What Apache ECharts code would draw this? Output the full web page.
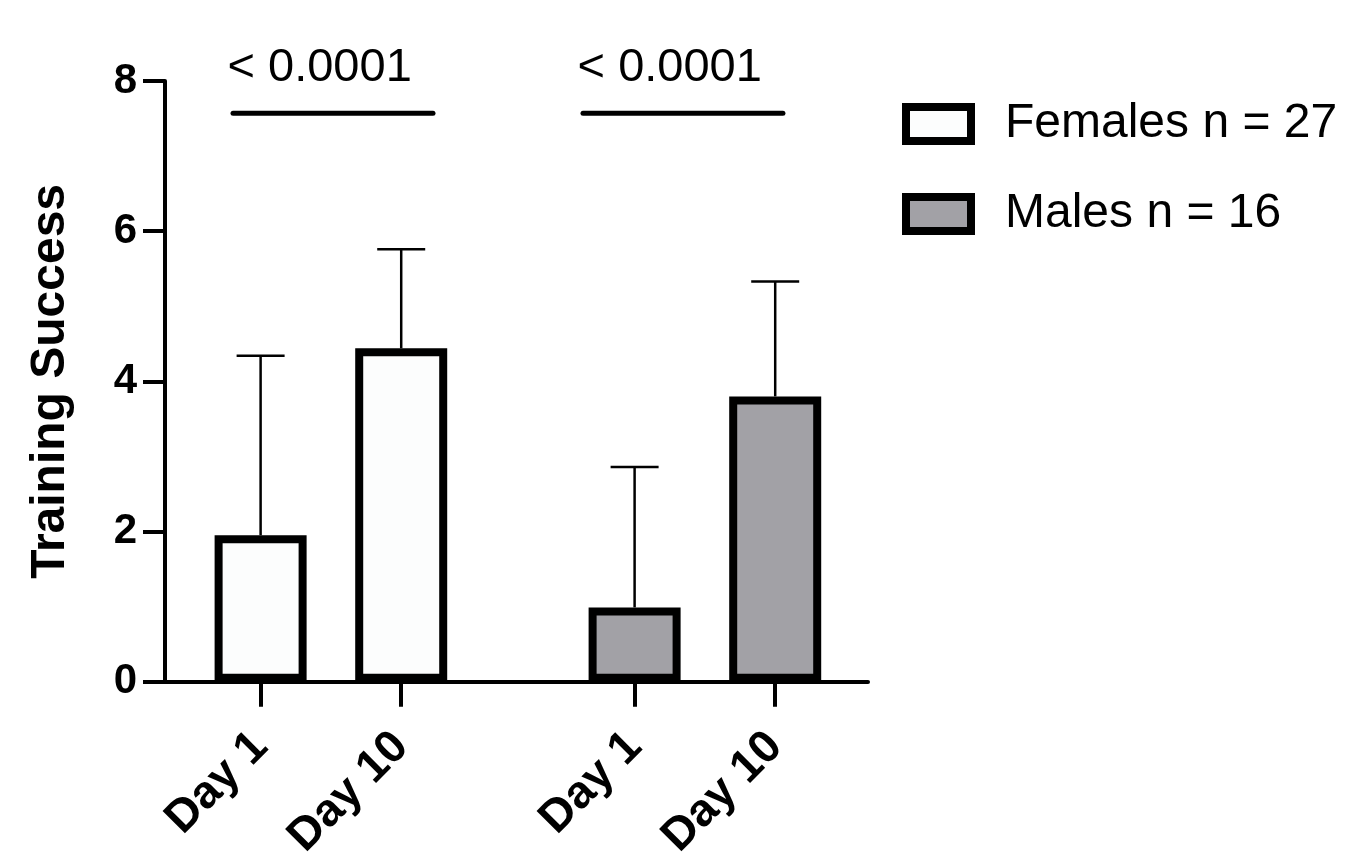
<!DOCTYPE html>
<html>
<head>
<meta charset="utf-8">
<title>Training Success</title>
<script src="https://cdn.jsdelivr.net/npm/echarts@6/dist/echarts.min.js"></script>
<style>
  html, body { margin: 0; padding: 0; background: #fff; }
  #main { width: 1355px; height: 863px; }
</style>
</head>
<body>
<div id="main"></div>
<script>
// data
const dayLabels = ['Day 1', 'Day 10', 'Day 1', 'Day 10'];
const femaleMean = [1.95, 4.44];
const femaleSd = [2.39, 1.32];
const maleMean = [0.99, 3.80];
const maleSd = [1.87, 1.53];
const yTicks = [0, 2, 4, 6, 8];
const pLabels = ['< 0.0001', '< 0.0001'];

// layout: slot centres on the x axis (axis runs 0..5)
const slotX = [0.68, 1.68, 3.34, 4.34];
const sigSpan = [[0.484, 1.906, 1.10], [2.973, 4.395, 3.59]]; // line start, line end, text centre
const sigY = 7.57;
const FONT = 'Liberation Sans, Arial, sans-serif';

const chart = echarts.init(document.getElementById('main'));

const femaleData = femaleMean.map((v, i) => [slotX[i], v]);
const maleData = maleMean.map((v, i) => [slotX[i + 2], v]);
const errData = femaleMean.map((v, i) => [slotX[i], v, v + femaleSd[i]])
    .concat(maleMean.map((v, i) => [slotX[i + 2], v, v + maleSd[i]]));
const sigData = sigSpan.map((s, i) => [s[0], s[1], s[2], sigY]);

function labelFor(val) {
    for (let i = 0; i < slotX.length; i++) {
        if (Math.abs(slotX[i] - val) < 1e-6) return dayLabels[i];
    }
    return '';
}

const option = {
    animation: false,
    grid: { left: 165, right: 487, top: 81, bottom: 181 },
    legend: {
        orient: 'vertical',
        left: 902,
        top: 100,
        padding: 0,
        itemWidth: 65,
        itemHeight: 34,
        itemGap: 42,
        textStyle: { fontFamily: FONT, fontSize: 48, color: '#000', lineHeight: 48, padding: [0, 0, 0, 29] },
        data: [
            { name: 'Females n = 27', icon: 'rect', itemStyle: { color: '#fcfdfd', borderColor: '#000', borderWidth: 8 } },
            { name: 'Males n = 16', icon: 'rect', itemStyle: { color: '#a2a1a6', borderColor: '#000', borderWidth: 8 } }
        ]
    },
    xAxis: {
        type: 'value',
        min: 0,
        max: 5,
        splitLine: { show: false },
        axisLine: { show: true, lineStyle: { color: '#000', width: 4 } },
        axisTick: { show: true, length: 25, customValues: slotX, lineStyle: { color: '#000', width: 4 } },
        axisLabel: {
            customValues: slotX,
            formatter: labelFor,
            rotate: 45,
            margin: 58,
            fontFamily: FONT,
            fontWeight: 'bold',
            fontSize: 46,
            color: '#000'
        }
    },
    yAxis: {
        type: 'value',
        min: 0,
        max: 8,
        interval: 2,
        name: 'Training Success',
        nameLocation: 'middle',
        nameRotate: 90,
        nameGap: 90,
        nameTextStyle: { fontFamily: FONT, fontWeight: 'bold', fontSize: 48, color: '#000' },
        splitLine: { show: false },
        axisLine: { show: true, lineStyle: { color: '#000', width: 4 } },
        axisTick: { show: true, length: 22, lineStyle: { color: '#000', width: 4 } },
        axisLabel: {
            margin: 28,
            fontFamily: FONT,
            fontWeight: 'bold',
            fontSize: 42,
            color: '#000',
            formatter: v => (yTicks.indexOf(v) > -1 ? String(v) : '')
        }
    },
    series: [
        {
            // error bars (mean -> mean + SD), drawn under the bars
            type: 'custom',
            name: 'sd',
            z: 1,
            clip: false,
            data: errData,
            renderItem: function (params, api) {
                const base = api.coord([api.value(0), api.value(1)]);
                const top = api.coord([api.value(0), api.value(2)]);
                const half = 24;
                return {
                    type: 'group',
                    children: [
                        { type: 'line', shape: { x1: base[0], y1: base[1], x2: top[0], y2: top[1] }, style: { stroke: '#000', lineWidth: 2.5 } },
                        { type: 'line', shape: { x1: top[0] - half, y1: top[1], x2: top[0] + half, y2: top[1] }, style: { stroke: '#000', lineWidth: 2.5 } }
                    ]
                };
            }
        },
        {
            name: 'Females n = 27',
            type: 'bar',
            z: 2,
            barWidth: 92,
            barGap: '-100%',
            data: femaleData,
            itemStyle: { color: '#fcfdfd', borderColor: '#000', borderWidth: 8 }
        },
        {
            name: 'Males n = 16',
            type: 'bar',
            z: 2,
            barWidth: 92,
            barGap: '-100%',
            data: maleData,
            itemStyle: { color: '#a2a1a6', borderColor: '#000', borderWidth: 8 }
        },
        {
            // p value brackets
            type: 'custom',
            name: 'p',
            z: 3,
            clip: false,
            data: sigData,
            renderItem: function (params, api) {
                const a = api.coord([api.value(0), api.value(3)]);
                const b = api.coord([api.value(1), api.value(3)]);
                const t = api.coord([api.value(2), api.value(3)]);
                return {
                    type: 'group',
                    children: [
                        { type: 'line', shape: { x1: a[0], y1: a[1], x2: b[0], y2: b[1] }, style: { stroke: '#000', lineWidth: 5, lineCap: 'round' } },
                        {
                            type: 'text',
                            x: t[0],
                            y: t[1] - 45,
                            style: {
                                text: pLabels[params.dataIndex],
                                fill: '#000',
                                font: '47px ' + FONT,
                                align: 'center',
                                verticalAlign: 'middle'
                            }
                        }
                    ]
                };
            }
        }
    ]
};

chart.setOption(option);
</script>
</body>
</html>
